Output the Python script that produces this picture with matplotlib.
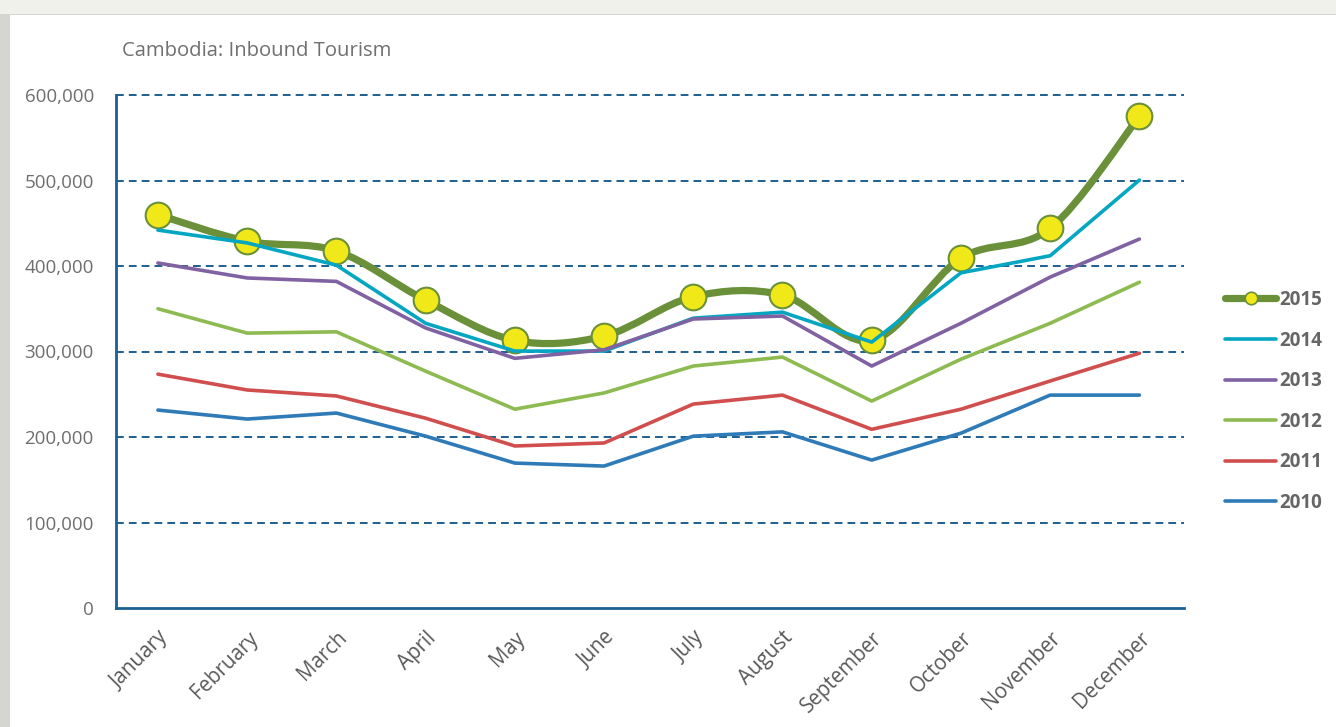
import matplotlib.pyplot as plt
from matplotlib.path import Path
from matplotlib.patches import PathPatch, Rectangle
from matplotlib.lines import Line2D
from matplotlib.ticker import FuncFormatter

months = ['January', 'February', 'March', 'April', 'May', 'June', 'July',
          'August', 'September', 'October', 'November', 'December']

y2015 = [460000, 429000, 417500, 360000, 313000, 318000, 364000, 366000, 313000, 409000, 444000, 575000]
y2014 = [442000, 427000, 401000, 333000, 300500, 300500, 339000, 346000, 311000, 392000, 412000, 500500]
y2013 = [403500, 386000, 382000, 327500, 292000, 302000, 338000, 341500, 283000, 333000, 387000, 431500]
y2012 = [350000, 321500, 323000, 277000, 232500, 251500, 283000, 293500, 242000, 291000, 333000, 381000]
y2011 = [273500, 255000, 248000, 222000, 189500, 193000, 238500, 249000, 209000, 232500, 265500, 298000]
y2010 = [231500, 221000, 228000, 201000, 169500, 166000, 201000, 206000, 173000, 204500, 249000, 249000]

series = [('2015', y2015, '#6a9139'), ('2014', y2014, '#04a6c2'),
          ('2013', y2013, '#8062a3'), ('2012', y2012, '#8dbb52'),
          ('2011', y2011, '#d04f4e'), ('2010', y2010, '#2e7bb8')]

plt.rcParams['font.family'] = ['Open Sans', 'DejaVu Sans']

fig = plt.figure(figsize=(13.36, 7.27), dpi=100)
fig.patch.set_facecolor('#d6d6d1')
fig.patches.append(Rectangle((0, 0.981), 1, 0.02, transform=fig.transFigure,
                             facecolor='#f1f1ec', edgecolor='none', zorder=-2))
fig.patches.append(Rectangle((10 / 1336, 0), 1, 712 / 727, transform=fig.transFigure,
                             facecolor='white', edgecolor='none', zorder=-1))

ax = fig.add_axes([116 / 1336, 119 / 727, (1184 - 116) / 1336, (608 - 95) / 727])
ax.set_facecolor('none')

x = list(range(len(months)))


def smooth_path(xs, ys):
    # Excel style smoothed line: cubic bezier with tension 1/6
    n = len(xs)
    pts = list(zip(xs, ys))
    verts = [pts[0]]
    codes = [Path.MOVETO]
    for i in range(n - 1):
        p0 = pts[max(i - 1, 0)]
        p1 = pts[i]
        p2 = pts[i + 1]
        p3 = pts[min(i + 2, n - 1)]
        c1 = (p1[0] + (p2[0] - p0[0]) / 6, p1[1] + (p2[1] - p0[1]) / 6)
        c2 = (p2[0] - (p3[0] - p1[0]) / 6, p2[1] - (p3[1] - p1[1]) / 6)
        verts += [c1, c2, p2]
        codes += [Path.CURVE4] * 3
    return Path(verts, codes)


grid_color = '#1c5f91'
for v in [100000, 200000, 300000, 400000, 500000, 600000]:
    ax.axhline(v, color=grid_color, lw=1.4, ls=(0, (4, 2.6)), zorder=1, clip_on=False)

name, vals, col = series[0]
ax.add_patch(PathPatch(smooth_path(x, vals), facecolor='none', edgecolor=col,
                       lw=5.2, capstyle='round', joinstyle='round', zorder=2))
ax.plot(x, vals, ls='none', marker='o', ms=18.5, mfc='#f0e818', mec=col, mew=1.5, zorder=2)

for i, (name, vals, col) in enumerate(series[1:]):
    ax.plot(x, vals, color=col, lw=2.6, solid_capstyle='round', zorder=3 + i)

ax.set_xlim(-0.47, 11.5)
ax.set_ylim(0, 600000)
ax.set_xticks(x)
ax.set_xticklabels(months, rotation=45, ha='right', rotation_mode='anchor',
                   fontsize=14.8, color='#595959')
ax.set_yticks([0, 100000, 200000, 300000, 400000, 500000, 600000])
ax.yaxis.set_major_formatter(FuncFormatter(lambda v, p: f'{int(v):,}'))
ax.tick_params(axis='y', length=0, pad=16, labelsize=13.5, labelcolor='#6e6e6e')
ax.tick_params(axis='x', length=0, pad=14)
for s in ['top', 'right']:
    ax.spines[s].set_visible(False)
for s in ['left', 'bottom']:
    ax.spines[s].set_color(grid_color)
    ax.spines[s].set_linewidth(2)

fig.text(122 / 1336, 1 - 51 / 727, 'Cambodia: Inbound Tourism', fontsize=14.6,
         color='#707070', va='center', ha='left')

handles = [Line2D([], [], color=series[0][2], lw=5.2, marker='o', ms=9,
                  mfc='#f0e818', mec=series[0][2], mew=1.2, solid_capstyle='round')]
for name, vals, col in series[1:]:
    handles.append(Line2D([], [], color=col, lw=2.6, solid_capstyle='round'))
leg = fig.legend(handles, [s[0] for s in series], loc='upper left',
                 bbox_to_anchor=(1208 / 1336, 1 - 273 / 727), frameon=False,
                 handlelength=2.75, handletextpad=0.15, labelspacing=1.1,
                 prop={'weight': 'bold', 'size': 13.5})
for t in leg.get_texts():
    t.set_color('#666666')

fig.savefig('out.png', dpi=100, facecolor=fig.get_facecolor())
